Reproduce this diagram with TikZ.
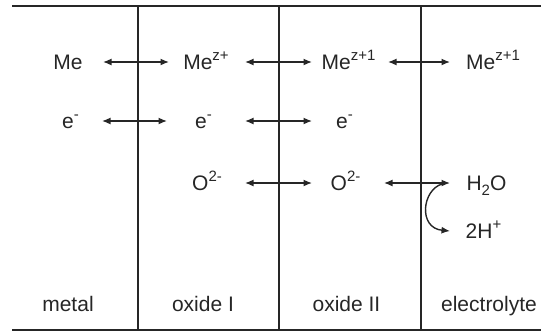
\documentclass[tikz,border=0pt]{standalone}
\usepackage{fontspec}
\setmainfont{Liberation Sans}
\usetikzlibrary{arrows.meta}
\definecolor{ink}{HTML}{262626}
\newcommand{\myup}[1]{\raisebox{0.42em}{\fontsize{15}{17}\selectfont #1}}
\newcommand{\mydown}[1]{\raisebox{-0.22em}{\fontsize{15}{17}\selectfont #1}}
\begin{document}
\begin{tikzpicture}[x=1pt,y=-1pt,
  lab/.style={font=\fontsize{21}{25}\selectfont, text=ink, inner sep=0pt, text height=15pt, text depth=0pt, anchor=center},
  wall/.style={draw=ink, line width=1.3pt},
  dbl/.style={draw=ink, line width=1.4pt, {Latex[length=8.5pt,width=7pt]}-{Latex[length=8.5pt,width=7pt]}},
  sgl/.style={draw=ink, line width=1.4pt, -{Latex[length=8.5pt,width=7pt]}}]
\useasboundingbox (0,0) rectangle (541,333);
% frame lines
\coordinate (tl) at (12,6);
\coordinate (tr) at (541,6);
\coordinate (bl) at (12,330);
\coordinate (br) at (541,330);
\draw[wall] (tl) -- (tr);
\draw[wall] (bl) -- (br);
\coordinate (v1t) at (138,6);   \coordinate (v1b) at (138,330);
\coordinate (v2t) at (279,6);   \coordinate (v2b) at (279,330);
\coordinate (v3t) at (421,6);   \coordinate (v3b) at (421,330);
\draw[wall] (v1t) -- (v1b);
\draw[wall] (v2t) -- (v2b);
\draw[wall] (v3t) -- (v3b);
% row 1
\node[lab] (me1) at (68,62) {Me};
\node[lab] (me2) at (206,62) {Me\myup{z+}};
\node[lab] (me3) at (348.5,62) {Me\myup{z+1}};
\node[lab] (me4) at (493,62) {Me\myup{z+1}};
% row 2
\node[lab] (e1) at (70.5,121) {e\myup{-}};
\node[lab] (e2) at (203.5,121) {e\myup{-}};
\node[lab] (e3) at (344.5,121) {e\myup{-}};
% row 3
\node[lab] (o2) at (207,183) {O\myup{2-}};
\node[lab] (o3) at (345.5,183) {O\myup{2-}};
\node[lab] (h2o) at (486.5,183) {H\mydown{2}O};
\node[lab] (hp) at (483.5,231) {2H\myup{+}};
% labels
\node[lab] (lm) at (68,304) {metal};
\node[lab] (lo1) at (203,304) {oxide I};
\node[lab] (lo2) at (346.5,304) {oxide II};
\node[lab] (lel) at (489,304) {electrolyte};
% arrows
\draw[dbl, shorten <=35pt, shorten >=37pt] (me1.center) -- (me2.center);
\draw[dbl, shorten <=39pt, shorten >=36.5pt] (me2.center) -- (me3.center);
\draw[dbl, shorten <=39.5pt, shorten >=43pt] (me3.center) -- (me4.center);
\draw[dbl, shorten <=31.5pt, shorten >=36.5pt] (e1.center) -- (e2.center);
\draw[dbl, shorten <=41.5pt, shorten >=32.5pt] (e2.center) -- (e3.center);
\draw[dbl, shorten <=38pt, shorten >=33.5pt] (o2.center) -- (o3.center);
\draw[dbl, shorten <=38.5pt, shorten >=36.5pt] (o3.center) -- (h2o.center);
\coordinate (cs) at (442,184);
\coordinate (ce) at (450,231);
\draw[sgl] (cs) .. controls (422,190) and (418,228) .. (ce);
\end{tikzpicture}
\end{document}
